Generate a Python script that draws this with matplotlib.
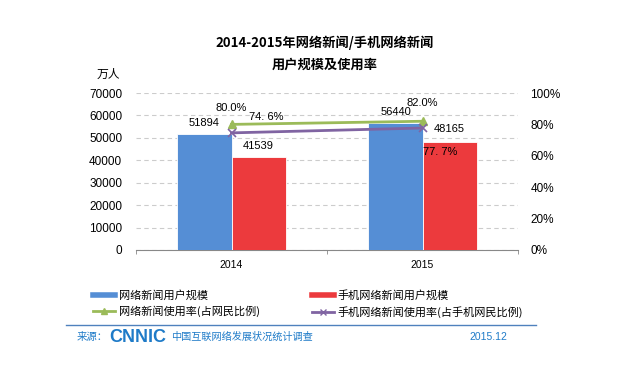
import numpy as np
import matplotlib
matplotlib.use("Agg")
import matplotlib.pyplot as plt
from matplotlib.lines import Line2D

plt.rcParams['font.family'] = ['Liberation Sans', 'Noto Sans CJK SC', 'DejaVu Sans']

# data
years = ['2014', '2015']
news_users = [51894, 56440]          # 网络新闻用户规模 (万人)
mobile_news_users = [41539, 48165]   # 手机网络新闻用户规模 (万人)
news_rate = [80.0, 82.0]             # 网络新闻使用率 (%)
mobile_news_rate = [74.6, 77.7]      # 手机网络新闻使用率 (%)
rate_labels_mobile = ['74. 6%', '77. 7%']

blue = '#558ED5'
red = '#EC3A3D'
green = '#9BBB59'
purple = '#8064A2'
footer_blue = '#1F7BC8'

fig = plt.figure(figsize=(6.42, 3.86), dpi=100)

ax = fig.add_axes([136/642, 1-250/386, 382/642, 157/386])
x = np.arange(len(years))
w = 0.283
b1 = ax.bar(x - w/2, news_users, w, color=blue, edgecolor='white', linewidth=0.6, zorder=3)
b2 = ax.bar(x + w/2, mobile_news_users, w, color=red, edgecolor='white', linewidth=0.6, zorder=3)
ax.set_xlim(-0.5, 1.5)
ax.set_ylim(0, 70000)
ax.set_yticks(np.arange(0, 70001, 10000))
ax.set_xticks(x)
ax.set_xticklabels(years, fontsize=7.5)
ax.tick_params(axis='x', length=0, pad=7)
ax.tick_params(axis='y', length=0, labelsize=8.5, pad=10)
ax.set_xticks([-0.5, 0.5, 1.5], minor=True)
ax.tick_params(axis='x', which='minor', length=3, color='#888888')
ax.grid(axis='y', linestyle=(0, (4, 3)), color='#CCCCCC', linewidth=0.8, zorder=0)
for s in ['left', 'right', 'top']:
    ax.spines[s].set_visible(False)
ax.spines['bottom'].set_color('#888888')

for i in range(len(years)):
    ax.annotate(str(news_users[i]), (x[i] - w/2, news_users[i]), textcoords='offset pixels',
                xytext=(0, 11), ha='center', va='center', fontsize=8)
ax.annotate(str(mobile_news_users[0]), (x[0] + w/2, mobile_news_users[0]), textcoords='offset pixels',
            xytext=(0, 11), ha='center', va='center', fontsize=8)
ax.annotate(str(mobile_news_users[1]), (x[1] + w/2, mobile_news_users[1]), textcoords='offset pixels',
            xytext=(0, 13), ha='center', va='center', fontsize=8)

ax2 = ax.twinx()
ax2.set_ylim(0, 100)
ax2.set_yticks(np.arange(0, 101, 20))
ax2.set_yticklabels(['%d%%' % v for v in range(0, 101, 20)])
ax2.tick_params(axis='y', length=0, labelsize=8.5, pad=9)
for s in ['left', 'right', 'top', 'bottom']:
    ax2.spines[s].set_visible(False)
ax2.plot(x, news_rate, color=green, lw=2, marker='^', ms=6, zorder=5)
ax2.plot(x, mobile_news_rate, color=purple, lw=2, marker='x', ms=6, mew=1.2, zorder=5)

ax2.annotate('%.1f%%' % news_rate[0], (x[0], news_rate[0]), textcoords='offset pixels',
             xytext=(0, 16), ha='center', va='center', fontsize=8)
ax2.annotate('%.1f%%' % news_rate[1], (x[1], news_rate[1]), textcoords='offset pixels',
             xytext=(0, 18), ha='center', va='center', fontsize=8)
ax2.annotate(rate_labels_mobile[0], (x[0], mobile_news_rate[0]), textcoords='offset pixels',
             xytext=(35, 16), ha='center', va='center', fontsize=8)
ax2.annotate(rate_labels_mobile[1], (x[1], mobile_news_rate[1]), textcoords='offset pixels',
             xytext=(18, -24), ha='center', va='center', fontsize=8)

# titles
fig.text(325/642, 1-43/386, '2014-2015年网络新闻/手机网络新闻', ha='center', va='center',
         fontsize=9.5, fontweight='bold', family=['Noto Sans CJK SC'])
fig.text(325/642, 1-65/386, '用户规模及使用率', ha='center', va='center',
         fontsize=9.5, fontweight='bold', family=['Noto Sans CJK SC'])
fig.text(108/642, 1-74/386, '万人', ha='center', va='center', fontsize=8.5,
         family=['Noto Sans CJK SC'])

# legend (column-wise order so rows read: bars, then lines)
handles = [Line2D([], [], color=blue, lw=4),
           Line2D([], [], color=green, lw=2, marker='^', ms=5),
           Line2D([], [], color=red, lw=4),
           Line2D([], [], color=purple, lw=2, marker='x', ms=5)]
labels = ['网络新闻用户规模', '网络新闻使用率(占网民比例)',
          '手机网络新闻用户规模', '手机网络新闻使用率(占手机网民比例)']
leg = fig.legend(handles, labels, ncol=2, loc='upper left', bbox_to_anchor=(83/642, 1-280/386),
                 frameon=False, handlelength=2.0, handletextpad=0.3,
                 columnspacing=4.7, labelspacing=0.45,
                 prop={'family': ['Noto Sans CJK SC'], 'size': 8})

# footer
fig.add_artist(Line2D([66/642, 536/642], [1-325/386, 1-325/386], color='#4F81BD', lw=1))
fig.text(77/642, 1-337/386, '来源：', ha='left', va='center', fontsize=7.5, color=footer_blue,
         family=['Noto Sans CJK SC'])
fig.text(109/642, 1-337/386, 'CNNIC', ha='left', va='center', fontsize=13, fontweight='bold',
         color=footer_blue, family=['Liberation Sans'])
fig.text(171/642, 1-337/386, '中国互联网络发展状况统计调查', ha='left', va='center', fontsize=7.3,
         color=footer_blue, family=['Noto Sans CJK SC'])
fig.text(469/642, 1-337/386, '2015.12', ha='left', va='center', fontsize=7.5, color=footer_blue)

fig.savefig('out.png', dpi=100)
